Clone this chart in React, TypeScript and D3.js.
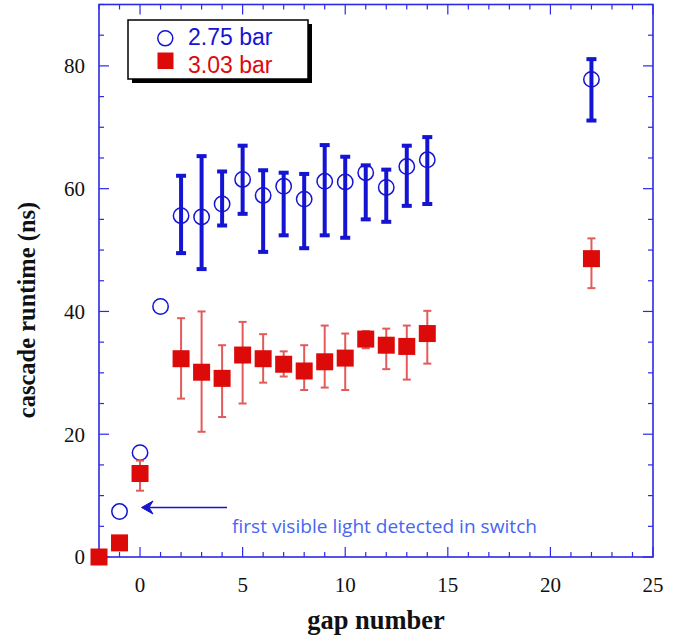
import React from "react";
import * as d3 from "d3";

// 2.75 bar series (open circles)
const blueX = [-1, 0, 1, 2, 3, 4, 5, 6, 7, 8, 9, 10, 11, 12, 13, 14, 22];
const blueY = [7.4, 17.0, 40.8, 55.6, 55.4, 57.5, 61.5, 58.9, 60.4, 58.3, 61.2, 61.1, 62.6, 60.2, 63.6, 64.7, 77.8];
const blueHi = [null, null, null, 62.1, 65.3, 62.8, 67.0, 63.0, 62.6, 62.4, 67.1, 65.2, 63.8, 63.1, 67.0, 68.4, 81.1];
const blueLo = [null, null, null, 49.5, 46.9, 54.0, 55.9, 49.7, 52.4, 50.3, 52.4, 52.0, 55.0, 54.6, 57.2, 57.5, 71.1];

// 3.03 bar series (filled squares)
const redX = [-2, -1, 0, 2, 3, 4, 5, 6, 7, 8, 9, 10, 11, 12, 13, 14, 22];
const redY = [0, 2.3, 13.6, 32.3, 30.1, 29.1, 32.9, 32.3, 31.4, 30.3, 31.8, 32.4, 35.5, 34.5, 34.3, 36.4, 48.6];
const redHi = [null, null, 15.7, 38.9, 40.0, 34.5, 38.3, 36.3, 33.5, 34.5, 37.7, 36.4, 36.8, 37.2, 37.7, 40.1, 51.9];
const redLo = [null, null, 10.8, 25.8, 20.4, 22.8, 25.0, 28.4, 29.4, 27.2, 27.6, 27.2, 34.0, 30.6, 28.9, 31.5, 43.8];

const xLabelTicks = [0, 5, 10, 15, 20, 25];
const yLabelTicks = [0, 20, 40, 60, 80];
const legendLabels = ["2.75 bar", "3.03 bar"];
const annotationText = "first visible light detected in switch";
const xTitle = "gap number";
const yTitle = "cascade runtime (ns)";

const W = 676;
const H = 637;
const L = 99, R = 653, T = 4.5, B = 557;

const AXIS = "#2a2ae8";
const BLUE = "#1414d2";
const RED = "#dd0a0a";
const RED_BAR = "#e35a5a";
const SERIF = "'Liberation Serif', 'Times New Roman', serif";

export default function App() {
  const x = d3.scaleLinear().domain([-2, 25]).range([L, R]);
  const y = d3.scaleLinear().domain([0, 90]).range([B, T]);

  const xMinor = d3.range(-2, 26, 1);
  const yMinor = d3.range(0, 91, 5);

  const ticks: JSX.Element[] = [];
  xMinor.forEach((v) => {
    const len = v % 5 === 0 ? 10 : 5;
    const px = x(v);
    ticks.push(<line key={"xb" + v} x1={px} x2={px} y1={B} y2={B - len} stroke={AXIS} strokeWidth={1.2} />);
    ticks.push(<line key={"xt" + v} x1={px} x2={px} y1={T} y2={T + len} stroke={AXIS} strokeWidth={1.2} />);
  });
  yMinor.forEach((v) => {
    const len = v % 20 === 0 ? 10 : 5;
    const py = y(v);
    ticks.push(<line key={"yl" + v} x1={L} x2={L + len} y1={py} y2={py} stroke={AXIS} strokeWidth={1.2} />);
    ticks.push(<line key={"yr" + v} x1={R} x2={R - len} y1={py} y2={py} stroke={AXIS} strokeWidth={1.2} />);
  });

  const sq = 17;

  return (
    <svg width={W} height={H} style={{ position: "absolute", left: 0, top: 0, background: "#fff" }}>
      <rect x={0} y={0} width={W} height={H} fill="#fff" />
      <rect x={L} y={T} width={R - L} height={B - T} fill="none" stroke={AXIS} strokeWidth={1.6} />
      {ticks}

      {xLabelTicks.map((v) => (
        <text key={"xl" + v} x={x(v)} y={592} textAnchor="middle" fontFamily={SERIF} fontSize={21} fill="#111">
          {v}
        </text>
      ))}
      {yLabelTicks.map((v) => (
        <text key={"yl" + v} x={85} y={y(v)} dy="0.35em" textAnchor="end" fontFamily={SERIF} fontSize={21} fill="#111">
          {v}
        </text>
      ))}

      <text x={376} y={629} textAnchor="middle" fontFamily={SERIF} fontWeight="bold" fontSize={26.5} fill="#111">
        {xTitle}
      </text>
      <text transform={`translate(35,310) rotate(-90)`} textAnchor="middle" fontFamily={SERIF} fontWeight="bold" fontSize={24.5} fill="#111">
        {yTitle}
      </text>

      {blueX.map((v, i) =>
        blueHi[i] == null ? null : (
          <g key={"be" + i} stroke={BLUE} strokeWidth={4}>
            <line x1={x(v)} x2={x(v)} y1={y(blueHi[i] as number)} y2={y(blueLo[i] as number)} />
            <line x1={x(v) - 5} x2={x(v) + 5} y1={y(blueHi[i] as number)} y2={y(blueHi[i] as number)} />
            <line x1={x(v) - 5} x2={x(v) + 5} y1={y(blueLo[i] as number)} y2={y(blueLo[i] as number)} />
          </g>
        )
      )}
      {blueX.map((v, i) => (
        <circle key={"bc" + i} cx={x(v)} cy={y(blueY[i])} r={7.7} fill="none" stroke={BLUE} strokeWidth={1.5} />
      ))}

      {redX.map((v, i) =>
        redHi[i] == null ? null : (
          <g key={"re" + i} stroke={RED_BAR} strokeWidth={2}>
            <line x1={x(v)} x2={x(v)} y1={y(redHi[i] as number)} y2={y(redLo[i] as number)} />
            <line x1={x(v) - 4} x2={x(v) + 4} y1={y(redHi[i] as number)} y2={y(redHi[i] as number)} />
            <line x1={x(v) - 4} x2={x(v) + 4} y1={y(redLo[i] as number)} y2={y(redLo[i] as number)} />
          </g>
        )
      )}
      {redX.map((v, i) => (
        <rect key={"rs" + i} x={x(v) - sq / 2} y={y(redY[i]) - sq / 2} width={sq} height={sq} fill={RED} />
      ))}

      <rect x={132} y={24} width={180} height={59} fill="#000" />
      <rect x={128} y={20} width={180} height={59} fill="#fff" stroke="#000" strokeWidth={1.5} />
      <circle cx={165.3} cy={38.3} r={7.5} fill="none" stroke={BLUE} strokeWidth={1.5} />
      <rect x={157.5} y={52.5} width={16} height={16.5} fill={RED} />
      <text x={188} y={45} fontFamily="'Liberation Sans', Arial, sans-serif" fontSize={23} fill={BLUE}>
        {legendLabels[0]}
      </text>
      <text x={188} y={72.5} fontFamily="'Liberation Sans', Arial, sans-serif" fontSize={23} fill={RED}>
        {legendLabels[1]}
      </text>

      <line x1={227} x2={144} y1={507.5} y2={507.5} stroke={BLUE} strokeWidth={1.6} />
      <path d="M141.5,507.5 L153,501 L149,507.5 L153,514 Z" fill={BLUE} stroke={BLUE} strokeWidth={1} />
      <text x={232} y={533} fontFamily="'Open Sans', 'Noto Sans', sans-serif" fontSize={18} textLength={305} lengthAdjust="spacingAndGlyphs" fill="#4766f0">
        {annotationText}
      </text>
    </svg>
  );
}
